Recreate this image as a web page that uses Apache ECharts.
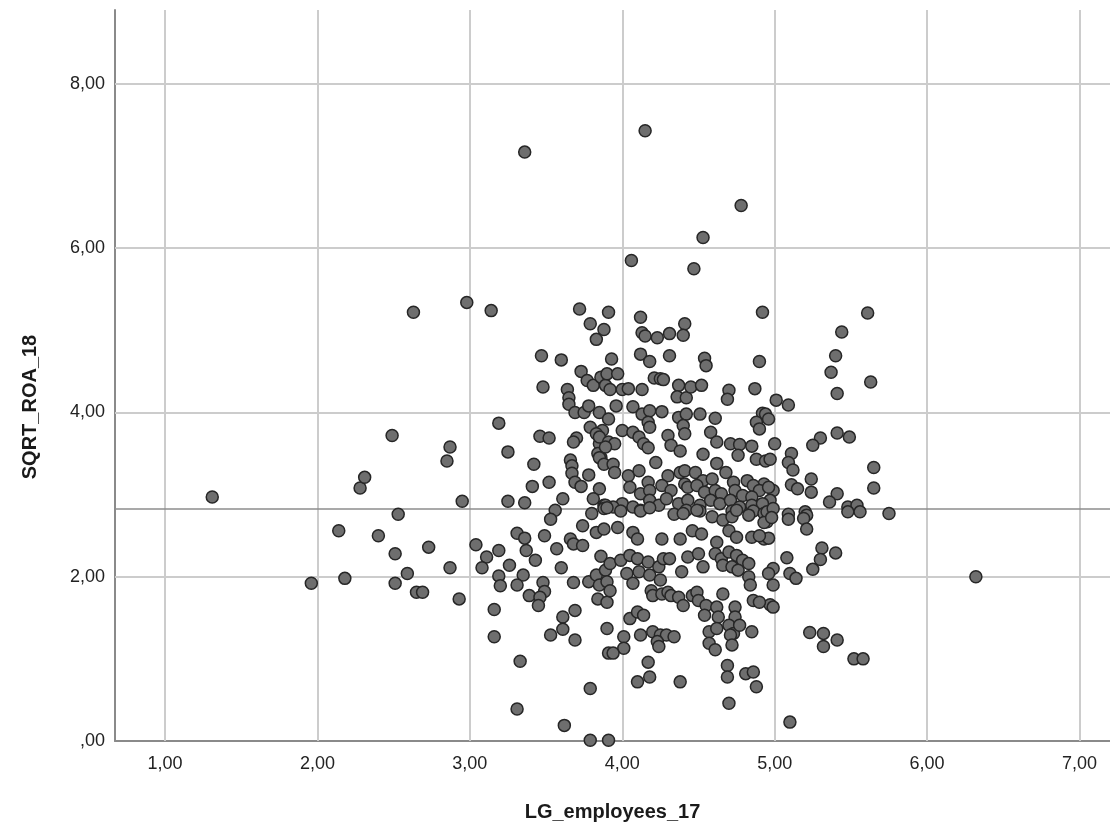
<!DOCTYPE html>
<html>
<head>
<meta charset="utf-8">
<title>SQRT_ROA_18 by LG_employees_17</title>
<script src="https://cdn.jsdelivr.net/npm/echarts@6/dist/echarts.min.js"></script>
<style>
  html, body { margin: 0; padding: 0; background: #ffffff; }
  #chart { width: 1110px; height: 836px; }
</style>
</head>
<body>
<div id="chart"></div>
<script>
// Axis settings and tick values
const xTicks = [1, 2, 3, 4, 5, 6, 7];
const yTicks = [0, 2, 4, 6, 8];
const xRange = [0.672, 7.2];
const yRange = [0, 8.9];
const refLineValue = 2.83;

// Observations as [LG_employees_17, SQRT_ROA_18]
const leftTail = [
  [1.31, 2.97], [1.96, 1.92], [2.18, 1.98], [2.14, 2.56], [2.28, 3.08], [2.31, 3.21],
  [2.49, 3.72], [2.40, 2.50], [2.51, 2.28], [2.53, 2.76], [2.51, 1.92], [2.59, 2.04],
  [2.65, 1.81], [2.69, 1.81], [2.73, 2.36], [2.85, 3.41], [2.87, 3.58], [2.87, 2.11],
  [2.93, 1.73], [2.95, 2.92], [2.63, 5.22], [2.98, 5.34]
];

const topOutliers = [
  [3.36, 7.17], [4.15, 7.43], [4.78, 6.52], [4.53, 6.13], [4.06, 5.85], [4.47, 5.75],
  [3.14, 5.24], [3.72, 5.26], [3.91, 5.22], [3.79, 5.08], [4.12, 5.16], [4.41, 5.08],
  [4.92, 5.22], [5.61, 5.21], [3.88, 5.01]
];

const band4to5 = [
  [3.83, 4.89], [4.13, 4.97], [4.15, 4.93], [4.23, 4.91], [4.31, 4.96], [4.40, 4.94],
  [5.44, 4.98], [3.47, 4.69], [3.60, 4.64], [3.93, 4.65], [4.12, 4.71], [4.18, 4.62],
  [4.31, 4.69], [4.54, 4.66], [4.55, 4.57], [4.90, 4.62], [5.40, 4.69], [3.73, 4.50],
  [3.77, 4.39], [3.81, 4.33], [3.86, 4.43], [3.89, 4.33], [3.48, 4.31], [3.64, 4.28],
  [3.65, 4.18], [3.65, 4.10], [3.69, 4.00], [3.75, 4.00], [3.78, 4.08], [3.90, 4.47],
  [3.97, 4.47], [3.92, 4.28], [4.00, 4.28], [4.04, 4.29], [4.13, 4.28], [4.21, 4.42],
  [4.25, 4.41], [4.27, 4.40], [4.37, 4.33], [4.36, 4.19], [4.42, 4.18], [4.45, 4.31],
  [4.52, 4.33], [4.70, 4.27], [4.69, 4.16], [4.87, 4.29], [5.37, 4.49], [5.63, 4.37],
  [5.41, 4.23], [5.01, 4.15], [5.09, 4.09], [3.96, 4.08], [4.07, 4.07]
];

const band3to4 = [
  [3.85, 4.00], [4.13, 3.98], [4.18, 4.02], [4.26, 4.01], [4.37, 3.94], [4.42, 3.98],
  [4.51, 3.98], [4.61, 3.93], [4.92, 3.99], [4.94, 3.98], [4.96, 3.92], [3.91, 3.92],
  [3.19, 3.87], [3.79, 3.82], [3.87, 3.78], [3.83, 3.74], [3.46, 3.71], [3.52, 3.69],
  [3.70, 3.69], [3.68, 3.64], [3.85, 3.62], [3.25, 3.52], [3.84, 3.50], [3.86, 3.45],
  [3.66, 3.42], [3.42, 3.37], [3.67, 3.35], [3.67, 3.26], [3.78, 3.24], [3.69, 3.15],
  [3.73, 3.10], [3.85, 3.07], [3.52, 3.15], [3.41, 3.10], [4.17, 3.88], [4.18, 3.82],
  [4.40, 3.84], [4.41, 3.74], [4.88, 3.88], [4.90, 3.80], [4.00, 3.78], [4.07, 3.76],
  [4.11, 3.70], [4.14, 3.62], [4.17, 3.57], [4.30, 3.72], [4.32, 3.60], [4.38, 3.53],
  [4.58, 3.76], [4.62, 3.64], [4.71, 3.62], [4.77, 3.61], [4.85, 3.59], [4.76, 3.48],
  [4.88, 3.43], [4.94, 3.41], [4.53, 3.49], [3.85, 3.70], [3.91, 3.64], [3.95, 3.62],
  [3.89, 3.58], [3.85, 3.45], [3.88, 3.37], [3.94, 3.37], [3.95, 3.27], [5.00, 3.62],
  [5.30, 3.69], [5.25, 3.60], [5.41, 3.75], [5.49, 3.70], [4.97, 3.43], [5.11, 3.50],
  [5.09, 3.39], [5.12, 3.30], [5.65, 3.33], [5.24, 3.19], [5.11, 3.12], [5.15, 3.07],
  [5.24, 3.03], [5.65, 3.08], [5.41, 3.01], [5.36, 2.91], [5.48, 2.85], [5.54, 2.87],
  [5.75, 2.77], [4.99, 3.05], [4.97, 2.93], [4.93, 3.13], [5.20, 2.79], [5.09, 2.76]
];

const coreUpper = [
  [4.04, 3.23], [4.11, 3.29], [4.17, 3.15], [4.22, 3.39], [4.30, 3.23], [4.38, 3.27],
  [4.41, 3.29], [4.48, 3.27], [4.53, 3.17], [4.59, 3.19], [4.62, 3.38], [4.68, 3.27],
  [4.73, 3.15], [4.82, 3.17], [4.86, 3.11], [4.90, 3.05], [4.96, 3.09], [4.05, 3.09],
  [4.12, 3.01], [4.18, 3.05], [4.26, 3.11], [4.32, 3.05], [4.41, 3.13], [4.43, 3.09],
  [4.49, 3.11], [4.54, 3.03], [4.61, 3.05], [4.65, 3.01], [4.74, 3.05], [4.79, 2.99],
  [4.85, 2.97], [4.00, 2.89], [4.07, 2.85], [4.18, 2.93], [4.24, 2.87], [4.29, 2.95],
  [4.37, 2.89], [4.43, 2.93], [4.51, 2.87], [4.58, 2.93], [4.64, 2.89], [4.71, 2.93],
  [4.77, 2.85], [4.85, 2.87], [4.92, 2.89], [3.94, 2.85], [3.88, 2.87], [4.12, 2.81],
  [4.42, 2.81], [4.51, 2.80], [4.72, 2.80], [4.86, 2.80], [3.81, 2.95], [3.61, 2.95],
  [3.25, 2.92], [3.36, 2.90], [3.89, 2.87], [3.56, 2.81]
];

const coreLowerLeft = [
  [3.53, 2.70], [3.74, 2.62], [3.80, 2.77], [3.88, 2.83], [3.83, 2.54], [3.88, 2.58],
  [3.31, 2.53], [3.36, 2.47], [3.49, 2.50], [3.66, 2.46], [3.68, 2.40], [3.74, 2.38],
  [3.04, 2.39], [3.19, 2.32], [3.11, 2.24], [3.37, 2.32], [3.43, 2.20], [3.57, 2.34],
  [3.86, 2.25], [3.08, 2.11], [3.26, 2.14], [3.60, 2.11], [3.19, 2.01], [3.35, 2.02],
  [3.20, 1.89], [3.31, 1.90], [3.48, 1.93], [3.49, 1.82], [3.68, 1.93], [3.78, 1.94],
  [3.83, 2.02], [3.89, 2.08], [3.85, 1.90], [3.90, 1.94], [3.39, 1.77], [3.46, 1.75],
  [3.45, 1.65], [3.84, 1.73], [3.90, 1.69], [3.16, 1.60], [3.69, 1.59], [3.61, 1.51],
  [3.61, 1.36], [3.53, 1.29], [3.69, 1.23], [3.90, 1.37], [3.91, 1.07], [3.16, 1.27],
  [3.33, 0.97], [3.79, 0.64], [3.31, 0.39], [3.62, 0.19], [3.79, 0.01], [3.91, 0.01]
];

const coreLowerRight = [
  [3.90, 2.84], [3.99, 2.80], [4.12, 2.80], [4.18, 2.84], [4.34, 2.76], [4.40, 2.77],
  [4.49, 2.81], [4.59, 2.73], [4.66, 2.69], [4.72, 2.73], [4.75, 2.81], [4.83, 2.75],
  [4.93, 2.77], [4.95, 2.67], [3.97, 2.60], [4.07, 2.54], [4.10, 2.46], [4.26, 2.46],
  [4.38, 2.46], [4.46, 2.56], [4.52, 2.52], [4.62, 2.42], [4.70, 2.56], [4.75, 2.48],
  [4.85, 2.48], [3.92, 2.16], [3.99, 2.20], [4.05, 2.26], [4.10, 2.22], [4.17, 2.18],
  [4.24, 2.12], [4.27, 2.22], [4.31, 2.22], [4.03, 2.04], [4.11, 2.06], [4.18, 2.02],
  [4.25, 1.96], [4.39, 2.06], [4.43, 2.24], [4.50, 2.28], [4.53, 2.12], [4.61, 2.28],
  [4.65, 2.22], [4.70, 2.30], [4.75, 2.26], [4.79, 2.20], [4.83, 2.16], [4.66, 2.14],
  [4.72, 2.12], [4.76, 2.08], [4.83, 2.00], [4.84, 1.90], [3.92, 1.83], [4.07, 1.92],
  [4.19, 1.83], [4.20, 1.77], [4.26, 1.79], [4.30, 1.81], [4.32, 1.77], [4.37, 1.75],
  [4.40, 1.65], [4.46, 1.77], [4.49, 1.81], [4.50, 1.71], [4.55, 1.65], [4.54, 1.53],
  [4.62, 1.63], [4.63, 1.51], [4.66, 1.79], [4.74, 1.63], [4.74, 1.51], [4.70, 1.41],
  [4.73, 1.31], [4.77, 1.41], [4.86, 1.71], [4.05, 1.49], [4.10, 1.57], [4.14, 1.53],
  [4.12, 1.29], [4.01, 1.27], [4.01, 1.13], [3.94, 1.07], [4.20, 1.33], [4.25, 1.29],
  [4.29, 1.29], [4.34, 1.27], [4.23, 1.21], [4.24, 1.15], [4.57, 1.33], [4.57, 1.19],
  [4.61, 1.11], [4.62, 1.37], [4.71, 1.29], [4.72, 1.17], [4.85, 1.33], [4.17, 0.96],
  [4.18, 0.78], [4.10, 0.72], [4.38, 0.72], [4.69, 0.92], [4.69, 0.78], [4.81, 0.82],
  [4.86, 0.84], [4.88, 0.66], [4.70, 0.46]
];

const rightGroup = [
  [4.95, 2.79], [4.99, 2.83], [4.93, 2.66], [4.98, 2.72], [5.09, 2.70], [5.21, 2.75],
  [5.19, 2.71], [5.21, 2.58], [5.48, 2.79], [5.56, 2.79], [4.93, 2.46], [4.96, 2.47],
  [4.90, 2.50], [5.31, 2.35], [5.40, 2.29], [5.30, 2.21], [5.25, 2.09], [5.08, 2.23],
  [4.99, 2.10], [4.96, 2.04], [5.10, 2.04], [5.14, 1.98], [4.99, 1.90], [4.97, 1.66],
  [4.99, 1.63], [4.90, 1.69], [5.23, 1.32], [5.32, 1.31], [5.41, 1.23], [5.32, 1.15],
  [5.52, 1.00], [5.58, 1.00], [5.10, 0.23], [6.32, 2.00]
];

const points = [].concat(leftTail, topOutliers, band4to5, band3to4, coreUpper,
  coreLowerLeft, coreLowerRight, rightGroup);

// SPSS-style number format: comma decimal, no leading zero for 0
function fmt(v) {
  if (v === 0) return ',00';
  return v.toFixed(2).replace('.', ',');
}

const gridColor = '#cccccc';
const gridLines = []
  .concat(xTicks.map(v => ({ xAxis: v })))
  .concat(yTicks.filter(v => v > 0).map(v => ({ yAxis: v })));

const chart = echarts.init(document.getElementById('chart'), null, { renderer: 'canvas' });

chart.setOption({
  animation: false,
  backgroundColor: '#ffffff',
  textStyle: { fontFamily: '"Liberation Sans", Arial, sans-serif' },
  grid: { left: 115, right: 0, top: 10, bottom: 95, containLabel: false },
  xAxis: {
    type: 'value',
    min: xRange[0],
    max: xRange[1],
    name: 'LG_employees_17',
    nameLocation: 'middle',
    nameGap: 61,
    nameTextStyle: { fontSize: 20, fontWeight: 'bold', color: '#1a1a1a' },
    axisLine: { show: true, lineStyle: { color: '#8a8a8a', width: 2 } },
    axisTick: { show: false },
    splitLine: { show: false },
    axisLabel: {
      customValues: xTicks,
      formatter: fmt,
      fontSize: 18,
      color: '#222222',
      margin: 14
    }
  },
  yAxis: {
    type: 'value',
    min: yRange[0],
    max: yRange[1],
    axisLine: { show: true, lineStyle: { color: '#8a8a8a', width: 2 } },
    axisTick: { show: false },
    splitLine: { show: false },
    axisLabel: {
      customValues: yTicks,
      formatter: fmt,
      fontSize: 18,
      color: '#222222',
      margin: 10
    }
  },
  graphic: [{
    type: 'text',
    x: 30,
    y: 407,
    rotation: Math.PI / 2,
    style: {
      text: 'SQRT_ROA_18',
      font: 'bold 20px "Liberation Sans", Arial, sans-serif',
      fill: '#1a1a1a',
      align: 'center',
      verticalAlign: 'middle'
    }
  }],
  series: [
    {
      // grid lines and the horizontal reference line, kept under the points
      type: 'scatter',
      data: [],
      z: 1,
      silent: true,
      markLine: {
        silent: true,
        z: 1,
        symbol: ['none', 'none'],
        label: { show: false },
        animation: false,
        lineStyle: { color: gridColor, width: 2, type: 'solid' },
        data: gridLines.concat([{
          yAxis: refLineValue,
          lineStyle: { color: '#8c8c8c', width: 1.5, type: 'solid' }
        }])
      }
    },
    {
      type: 'scatter',
      z: 3,
      data: points,
      symbol: 'circle',
      symbolSize: 12,
      itemStyle: {
        color: '#6e6e6e',
        borderColor: '#262626',
        borderWidth: 1.5,
        opacity: 1
      },
      emphasis: { disabled: true }
    }
  ]
});
</script>
</body>
</html>
